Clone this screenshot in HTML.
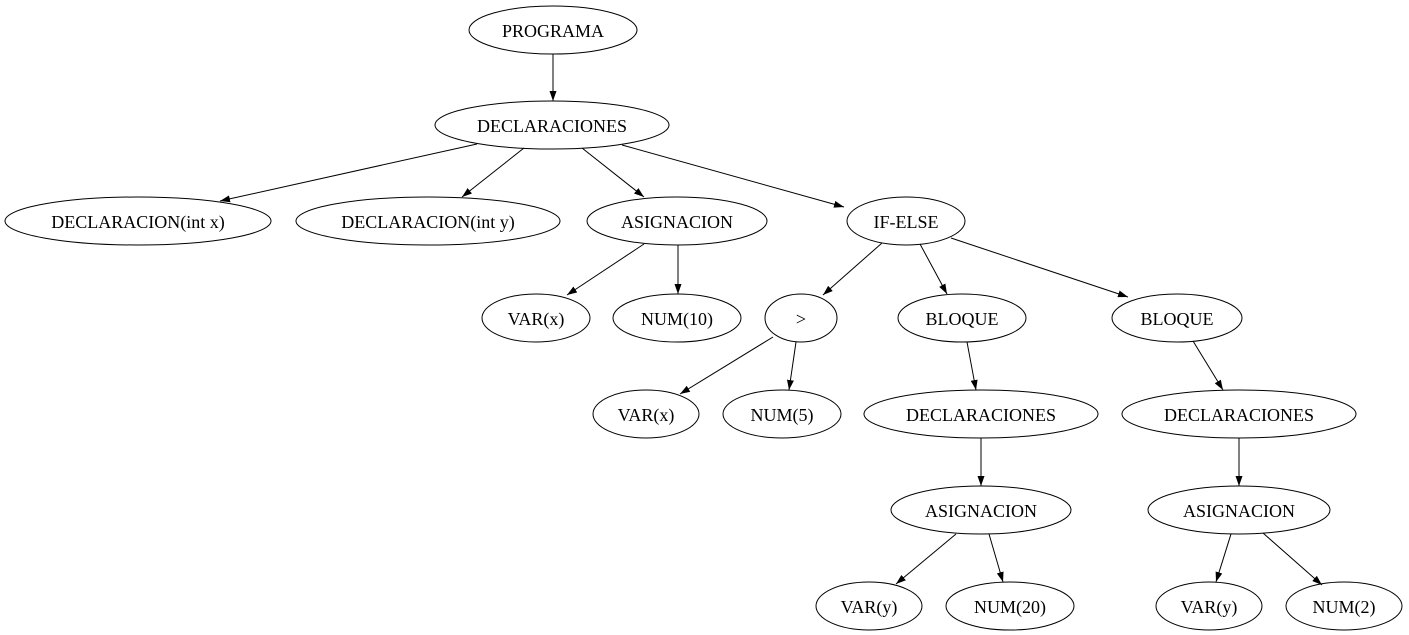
<!DOCTYPE html>
<html><head><meta charset="utf-8"><style>
html,body{margin:0;padding:0;background:#fff;}
svg{display:block;}
text{font-family:"Liberation Serif",serif;font-size:18px;fill:#000;text-anchor:middle;dominant-baseline:central;}
ellipse{fill:none;stroke:#000;stroke-width:1;}
line{stroke:#000;stroke-width:1;}
</style></head><body>
<svg width="1409" height="635" viewBox="0 0 1409 635" xmlns="http://www.w3.org/2000/svg">
<defs><marker id="a" viewBox="0 0 10 7" refX="10" refY="3.5" markerWidth="10" markerHeight="7" markerUnits="userSpaceOnUse" orient="auto"><path d="M0,0L10,3.5L0,7z" fill="#000"/></marker></defs>
<g>
<line x1="553" y1="54" x2="553" y2="101" marker-end="url(#a)"/>
<line x1="477" y1="144" x2="220" y2="201" marker-end="url(#a)"/>
<line x1="524" y1="148" x2="462" y2="197" marker-end="url(#a)"/>
<line x1="582" y1="148" x2="644" y2="197" marker-end="url(#a)"/>
<line x1="622" y1="145" x2="844" y2="207" marker-end="url(#a)"/>
<line x1="644" y1="244" x2="567" y2="295" marker-end="url(#a)"/>
<line x1="678" y1="245" x2="678" y2="294" marker-end="url(#a)"/>
<line x1="882" y1="243" x2="823" y2="295" marker-end="url(#a)"/>
<line x1="920" y1="244" x2="947" y2="294" marker-end="url(#a)"/>
<line x1="951" y1="238" x2="1128" y2="297" marker-end="url(#a)"/>
<line x1="773" y1="337" x2="680" y2="394" marker-end="url(#a)"/>
<line x1="796" y1="342" x2="789" y2="390" marker-end="url(#a)"/>
<line x1="967" y1="342" x2="976" y2="390" marker-end="url(#a)"/>
<line x1="1193" y1="341" x2="1223" y2="390" marker-end="url(#a)"/>
<line x1="981" y1="438" x2="981" y2="486" marker-end="url(#a)"/>
<line x1="1239" y1="438" x2="1239" y2="486" marker-end="url(#a)"/>
<line x1="956" y1="534" x2="896" y2="584" marker-end="url(#a)"/>
<line x1="989" y1="534" x2="1003" y2="582" marker-end="url(#a)"/>
<line x1="1231" y1="534" x2="1216" y2="582" marker-end="url(#a)"/>
<line x1="1263" y1="533" x2="1322" y2="585" marker-end="url(#a)"/>
</g>
<ellipse cx="553" cy="30" rx="84" ry="24"/><text x="553" y="31">PROGRAMA</text>
<ellipse cx="552" cy="125" rx="117" ry="24"/><text x="552" y="126">DECLARACIONES</text>
<ellipse cx="138" cy="221" rx="133" ry="24"/><text x="138" y="222">DECLARACION(int x)</text>
<ellipse cx="428" cy="221" rx="132" ry="24"/><text x="428" y="222">DECLARACION(int y)</text>
<ellipse cx="677" cy="221" rx="90" ry="24"/><text x="677" y="222">ASIGNACION</text>
<ellipse cx="906" cy="221" rx="59" ry="24"/><text x="906" y="222">IF-ELSE</text>
<ellipse cx="536" cy="318" rx="54" ry="24"/><text x="536" y="319">VAR(x)</text>
<ellipse cx="677" cy="318" rx="64" ry="24"/><text x="677" y="319">NUM(10)</text>
<ellipse cx="801" cy="318" rx="36" ry="24"/><text x="801" y="319">&gt;</text>
<ellipse cx="962" cy="318" rx="64" ry="24"/><text x="962" y="319">BLOQUE</text>
<ellipse cx="1177" cy="318" rx="65" ry="24"/><text x="1177" y="319">BLOQUE</text>
<ellipse cx="646" cy="414" rx="53" ry="24"/><text x="646" y="415">VAR(x)</text>
<ellipse cx="782" cy="414" rx="59" ry="24"/><text x="782" y="415">NUM(5)</text>
<ellipse cx="981" cy="414" rx="117" ry="24"/><text x="981" y="415">DECLARACIONES</text>
<ellipse cx="1239" cy="414" rx="117" ry="24"/><text x="1239" y="415">DECLARACIONES</text>
<ellipse cx="981" cy="510" rx="90" ry="24"/><text x="981" y="511">ASIGNACION</text>
<ellipse cx="1239" cy="510" rx="91" ry="24"/><text x="1239" y="511">ASIGNACION</text>
<ellipse cx="869" cy="606" rx="53" ry="24"/><text x="869" y="607">VAR(y)</text>
<ellipse cx="1010" cy="606" rx="64" ry="24"/><text x="1010" y="607">NUM(20)</text>
<ellipse cx="1209" cy="606" rx="53" ry="24"/><text x="1209" y="607">VAR(y)</text>
<ellipse cx="1344" cy="606" rx="58" ry="24"/><text x="1344" y="607">NUM(2)</text>
</svg>
</body></html>
